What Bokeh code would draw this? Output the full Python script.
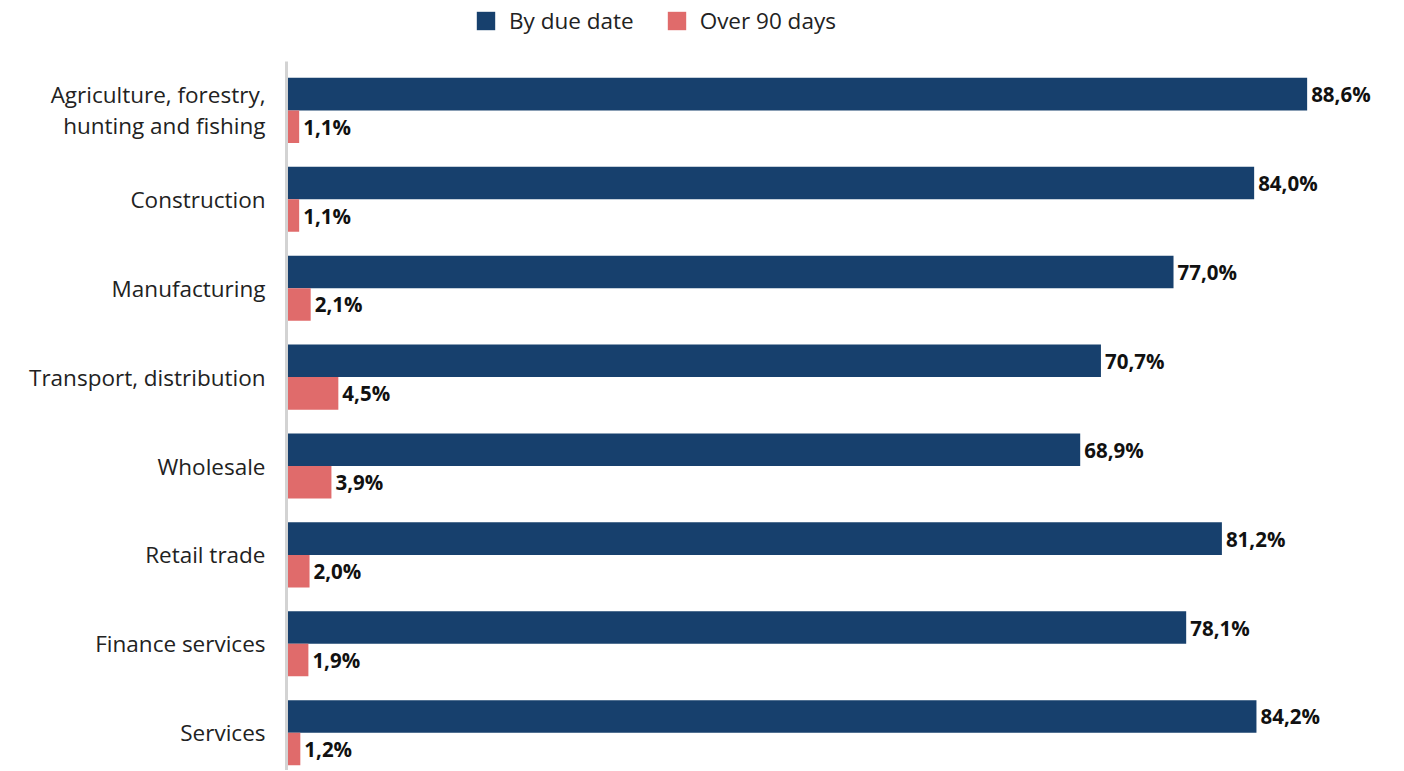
from bokeh.plotting import figure
from bokeh.layouts import column
from bokeh.models import ColumnDataSource, Range1d, FixedTicker, Legend, LegendItem
from bokeh.transform import dodge
from bokeh.embed import file_html
from bokeh.resources import INLINE
from bokeh.core.properties import value

categories = [
    "Agriculture, forestry,\nhunting and fishing",
    "Construction",
    "Manufacturing",
    "Transport, distribution",
    "Wholesale",
    "Retail trade",
    "Finance services",
    "Services",
]
by_due_date = [88.6, 84.0, 77.0, 70.7, 68.9, 81.2, 78.1, 84.2]
over_90_days = [1.1, 1.1, 2.1, 4.5, 3.9, 2.0, 1.9, 1.2]
series_names = ["By due date", "Over 90 days"]

BLUE = "#17406D"
RED = "#E06B6B"
FONT = "Open Sans"
W = 1395
LEFT = 286

def fmt(v):
    return f"{v:.1f}".replace(".", ",") + "%"

pos = list(range(len(categories)))
src = ColumnDataSource(dict(
    y=pos,
    due=by_due_date,
    over=over_90_days,
    due_lbl=[fmt(v) for v in by_due_date],
    over_lbl=[fmt(v) for v in over_90_days],
))

# ---- legend strip ----
lg = figure(width=W, height=61, x_range=Range1d(0, 1), y_range=Range1d(0, 1),
            output_backend="svg", toolbar_location=None,
            min_border_left=LEFT, min_border_right=0, min_border_top=0, min_border_bottom=0)
lg.xaxis.visible = False
lg.yaxis.visible = False
lg.grid.visible = False
lg.outline_line_color = None
# zero-width proxy bars that only carry the legend swatches
d1 = lg.hbar(y=[0], left=[0], right=[0], height=0.5, color=BLUE, line_color=None)
d2 = lg.hbar(y=[0], left=[0], right=[0], height=0.5, color=RED, line_color=None)
legend = Legend(
    items=[LegendItem(label=series_names[0], renderers=[d1]),
           LegendItem(label=series_names[1], renderers=[d2])],
    orientation="horizontal", location=(188, 25),
    glyph_width=23, glyph_height=23, label_standoff=12, spacing=31,
    label_text_font=FONT, label_text_font_size="22.5px", label_text_color="#222222",
    border_line_color=None, background_fill_alpha=0, padding=0, margin=0,
)
lg.add_layout(legend, "center")

# ---- main chart ----
p = figure(
    width=W, height=709,
    x_range=Range1d(0, 96.27),
    y_range=Range1d(7.425, -0.55),
    output_backend="svg", toolbar_location=None,
    min_border_left=LEFT, min_border_right=0, min_border_top=0, min_border_bottom=0,
)

bh = 0.366
p.hbar(y=dodge("y", -bh / 2, range=p.y_range), right="due", left=0, height=bh,
       source=src, color=BLUE, line_color=None)
p.hbar(y=dodge("y", bh / 2, range=p.y_range), right="over", left=0, height=bh,
       source=src, color=RED, line_color=None)

lbl_style = dict(text_font=value(FONT), text_font_size="20.5px", text_font_style="bold",
                 text_color="#111111", text_baseline="middle", text_align="left", x_offset=4)
p.text(x="due", y=dodge("y", -bh / 2, range=p.y_range), text="due_lbl", source=src, **lbl_style)
p.text(x="over", y=dodge("y", bh / 2, range=p.y_range), text="over_lbl", source=src, **lbl_style)

p.xaxis.visible = False
p.xgrid.visible = False
p.ygrid.visible = False
p.outline_line_color = None

ya = p.yaxis[0]
ya.ticker = FixedTicker(ticks=pos)
ya.major_label_overrides = {i: c for i, c in zip(pos, categories)}
ya.major_tick_line_color = None
ya.minor_tick_line_color = None
ya.axis_line_color = "#D3D3D3"
ya.axis_line_width = 3
ya.major_label_text_font = FONT
ya.major_label_text_font_size = "22.5px"
ya.major_label_text_line_height = 1.0
ya.major_label_text_color = "#222222"
ya.major_label_standoff = 15

layout = column(lg, p, spacing=0)
open("out.html", "w").write(file_html(layout, INLINE))
